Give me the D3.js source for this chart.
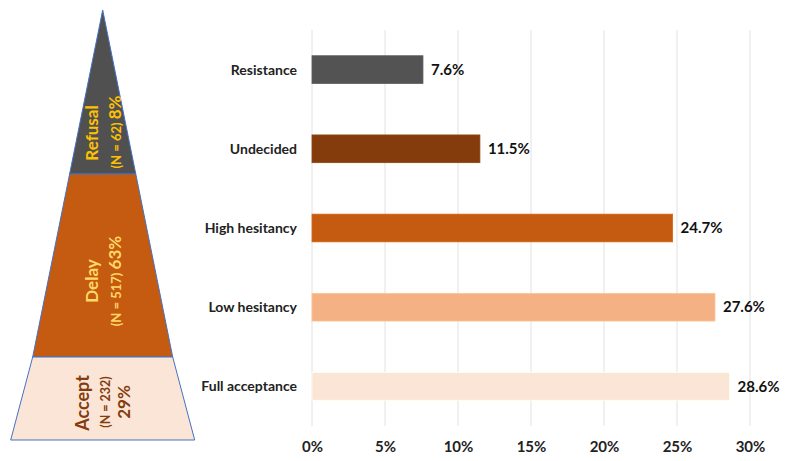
<!DOCTYPE html>
<html><head><meta charset="utf-8">
<script src="https://cdn.jsdelivr.net/npm/d3@7"></script>
<style>body{margin:0;background:#fff}svg{display:block}</style>
</head><body>
<svg id="c" width="789" height="461"></svg>
<script>
const categories = ["Resistance","Undecided","High hesitancy","Low hesitancy","Full acceptance"];
const values = [7.6, 11.5, 24.7, 27.6, 28.6];
const barColors = ["#535353","#843C0C","#C55A11","#F4B183","#FBE5D6"];
const xTicks = [0,5,10,15,20,25,30];

const pyramidLabels = ["Refusal","Delay","Accept"];
const pyramidN = [62, 517, 232];
const pyramidPct = [8, 63, 29];
const pyramidColors = ["#505050","#C55A11","#FBE5D6"];
const pyramidTextColors = ["#FFC000","#FFD966","#843C0C"];

const svg = d3.select("#c");
const font = "Lato, 'Open Sans', sans-serif";

// ---- Bar chart ----
const x = d3.scaleLinear().domain([0,30]).range([312,750]);
const y = d3.scaleBand().domain(categories).range([30,426]).paddingInner(0.65).paddingOuter(0.325);

svg.append("g").selectAll("line").data(xTicks).join("line")
  .attr("x1", d=>x(d)).attr("x2", d=>x(d)).attr("y1",30).attr("y2",426)
  .attr("stroke","#e2e2e2").attr("stroke-width",1);

svg.append("g").selectAll("rect").data(values).join("rect")
  .attr("x", x(0)).attr("y",(d,i)=>y(categories[i]))
  .attr("width", d=>x(d)-x(0)).attr("height", y.bandwidth())
  .attr("fill",(d,i)=>barColors[i])
  .attr("stroke",(d,i)=>d3.color(barColors[i]).brighter(0.3)).attr("stroke-width",0.8);

svg.append("g").selectAll("text").data(categories).join("text")
  .attr("x",297).attr("y",d=>y(d)+y.bandwidth()/2).attr("dy","0.35em")
  .attr("text-anchor","end").attr("font-family",font).attr("font-weight",700)
  .attr("font-size",14).attr("fill","#222").text(d=>d);

svg.append("g").selectAll("text").data(values).join("text")
  .attr("x",d=>x(d)+8).attr("y",(d,i)=>y(categories[i])+y.bandwidth()/2).attr("dy","0.35em")
  .attr("font-family",font).attr("font-weight",700).attr("font-size",15).attr("fill","#111")
  .text(d=>d.toFixed(1)+"%");

const xAxis = d3.axisBottom(x).tickValues(xTicks).tickFormat(d=>d+"%").tickSize(0).tickPadding(0);
const gx = svg.append("g").attr("transform","translate(0,441)").call(xAxis);
gx.select(".domain").remove();
gx.selectAll("text").attr("font-family",font).attr("font-weight",700).attr("font-size",15).attr("fill","#222");

// ---- Pyramid ----
const apexX = 102.7, apexY = 10;
const halfW = d3.scaleLinear().domain([apexY,357]).range([0,70]);
const bounds = [apexY, 174, 357, 440];
const accBottomHalf = 92;

function trap(y0,y1,h0,h1){
  return [[apexX-h0,y0],[apexX+h0,y0],[apexX+h1,y1],[apexX-h1,y1]];
}
const shapes = [
  trap(bounds[0],bounds[1],halfW(bounds[0]),halfW(bounds[1])),
  trap(bounds[1],bounds[2],halfW(bounds[1]),halfW(bounds[2])),
  trap(bounds[2],bounds[3],halfW(bounds[2]),accBottomHalf)
];
svg.append("g").selectAll("path").data(shapes).join("path")
  .attr("d", d=>d3.line()(d)+"Z")
  .attr("fill",(d,i)=>pyramidColors[i])
  .attr("stroke","#4472C4").attr("stroke-width",1).attr("stroke-linejoin","round");

function vtext(cx, cy, parts, color){
  const t = svg.append("text").attr("transform",`translate(${cx},${cy}) rotate(-90)`)
    .attr("text-anchor","middle").attr("dy","0.35em").attr("font-family",font).attr("fill",color);
  parts.forEach(p=>t.append("tspan").attr("font-size",p.s).attr("font-weight",p.w||400).text(p.t));
  return t;
}
vtext(92,133,[{t:pyramidLabels[0],s:17,w:700}],pyramidTextColors[0]);
vtext(115,132,[{t:`(N = ${pyramidN[0]}) `,s:13,w:700},{t:pyramidPct[0]+"%",s:17,w:700}],pyramidTextColors[0]);
vtext(92,281,[{t:pyramidLabels[1],s:17,w:700}],pyramidTextColors[1]);
vtext(115,281,[{t:`(N = ${pyramidN[1]}) `,s:13,w:700},{t:pyramidPct[1]+"%",s:17,w:700}],pyramidTextColors[1]);
vtext(83,403,[{t:pyramidLabels[2],s:18,w:700}],pyramidTextColors[2]);
vtext(104,402,[{t:`(N = ${pyramidN[2]})`,s:12.5,w:700}],pyramidTextColors[2]);
vtext(124,402,[{t:pyramidPct[2]+"%",s:17,w:700}],pyramidTextColors[2]);
</script>
</body></html>
